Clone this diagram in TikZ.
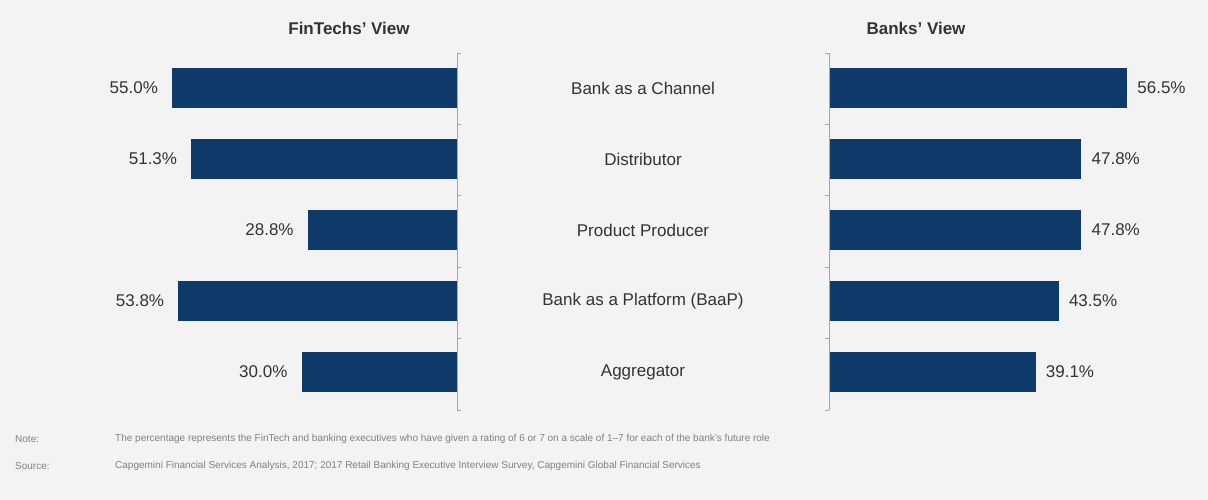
\documentclass[tikz,border=0pt]{standalone}
\usepackage{fontspec}
\setmainfont{Liberation Sans}
\definecolor{barblue}{HTML}{0E3B69}
\definecolor{bggray}{HTML}{F3F3F3}
\definecolor{txtgray}{HTML}{333333}
\begin{document}
\begin{tikzpicture}
[x=1pt,y=-1pt,
  bardecorate/.style={fill=barblue,draw=none},%
  labeldecorate/.style={text=txtgray,font=\fontsize{17}{20}\selectfont,inner sep=0pt},%
  titledecorate/.style={text=txtgray,font=\bfseries\fontsize{17}{20}\selectfont},%
  notedecorate/.style={text=gray,font=\fontsize{10}{12}\selectfont,inner sep=0pt,anchor=west},%
  axisdecorate/.style={draw=gray!70,line width=0.6pt}]
\fill[bggray] (0,0) rectangle (1208,500);
%% titles
\node[titledecorate] (ftitle) at (349,28) {FinTechs’ View};
\node[titledecorate] (btitle) at (916,28) {Banks’ View};
%% axes
\coordinate (ltop) at (457,53); \coordinate (lbot) at (457,410);
\coordinate (rtop) at (829,53); \coordinate (rbot) at (829,410);
\draw[axisdecorate] (ltop) -- (lbot);
\draw[axisdecorate] (rtop) -- (rbot);
\foreach \t in {0,...,5} {
  \draw[axisdecorate] (457,53+71.4*\t) -- ++(4,0);
  \draw[axisdecorate] (829,53+71.4*\t) -- ++(-4,0);
}
%% rows
\foreach \i/\role/\f/\b in {
  0/Bank as a Channel/55.0/56.5,
  1/Distributor/51.3/47.8,
  2/Product Producer/28.8/47.8,
  3/Bank as a Platform (BaaP)/53.8/43.5,
  4/Aggregator/30.0/39.1} {
  \pgfmathsetmacro{\yc}{88+71*\i}
  \node[labeldecorate] (role\i) at (643,\yc) {\role};
  \fill[bardecorate] (457-5.18*\f,\yc-20) rectangle (457,\yc+20);
  \fill[bardecorate] (830,\yc-20) rectangle (830+5.26*\b,\yc+20);
  \node[labeldecorate,anchor=east] (fval\i) at (457-5.18*\f-14,\yc) {\f\%};
  \node[labeldecorate,anchor=west] (bval\i) at (830+5.26*\b+10,\yc) {\b\%};
}
%% notes
\node[notedecorate] (notekey) at (15,439) {Note:};
\node[notedecorate] (notetxt) at (115,439) {The percentage represents the FinTech and banking executives who have given a rating of 6 or 7 on a scale of 1–7 for each of the bank’s future role};
\node[notedecorate] (srckey) at (15,466) {Source:};
\node[notedecorate] (srctxt) at (115,466) {Capgemini Financial Services Analysis, 2017; 2017 Retail Banking Executive Interview Survey, Capgemini Global Financial Services};
\end{tikzpicture}
\end{document}
